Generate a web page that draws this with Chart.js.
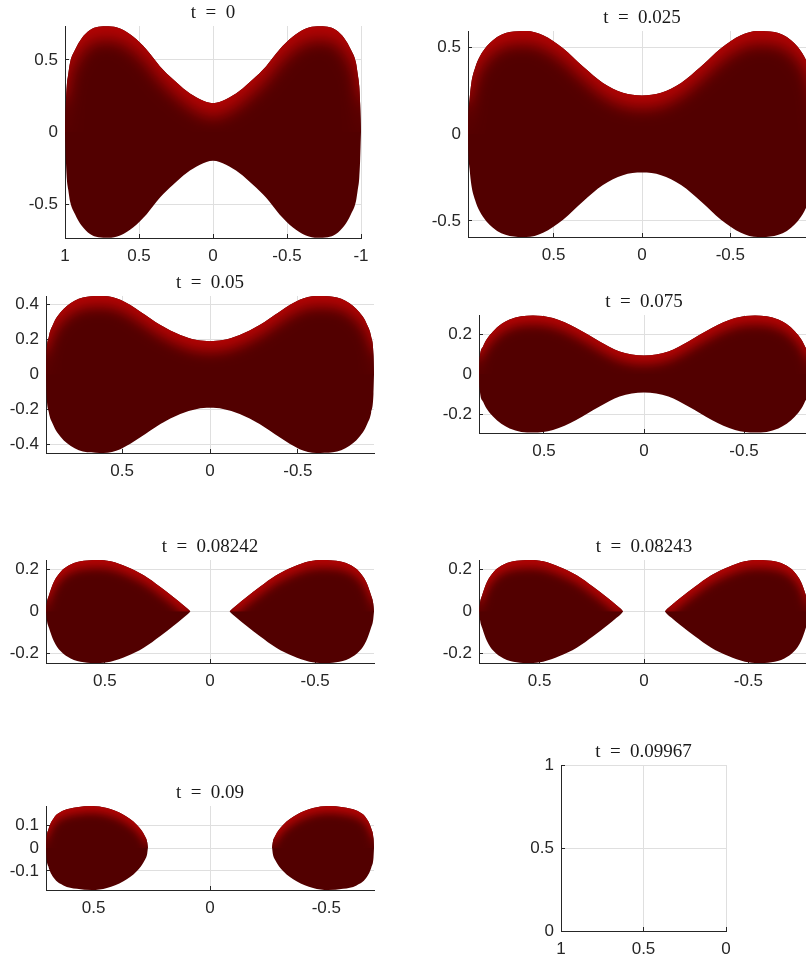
<!DOCTYPE html>
<html lang="en">
<head>
    <meta charset="UTF-8">
    <title>Shape at eight times</title>
    <script src="https://cdn.jsdelivr.net/npm/chart.js@4.4.0/dist/chart.umd.min.js"></script>
    <style>
        html, body { margin: 0; padding: 0; background: #fff; width: 806px; height: 959px; overflow: hidden; }
        #fig { position: relative; width: 806px; height: 959px; }
        canvas { position: absolute; }
    </style>
</head>
<body>
    <div id="fig"></div>

    <script>
        // Upper boundary of each shape, right-hand half only (x >= 0),
        // read off the picture. Shapes are symmetric in x and in y.
        const x_t0 = [1.0, 0.997, 0.994, 0.988, 0.978, 0.966, 0.932, 0.887, 0.831, 0.775, 0.707, 0.628, 0.538, 0.448, 0.358, 0.268, 0.178, 0.088, 0];
        const y_t0 = [0, 0.10, 0.20, 0.32, 0.40, 0.48, 0.57, 0.65, 0.707, 0.73, 0.734, 0.718, 0.66, 0.57, 0.455, 0.364, 0.284, 0.227, 0.20];

        const x_t025 = [0.985, 0.983, 0.976, 0.966, 0.945, 0.919, 0.844, 0.749, 0.655, 0.56, 0.447, 0.334, 0.221, 0.108, 0];
        const y_t025 = [0, 0.10, 0.20, 0.294, 0.38, 0.445, 0.54, 0.587, 0.593, 0.568, 0.493, 0.388, 0.294, 0.237, 0.222];

        const x_t05 = [0.933, 0.93, 0.917, 0.895, 0.869, 0.794, 0.699, 0.605, 0.51, 0.396, 0.282, 0.169, 0.074, 0];
        const y_t05 = [0, 0.11, 0.215, 0.28, 0.33, 0.406, 0.443, 0.447, 0.425, 0.358, 0.282, 0.225, 0.196, 0.19];

        const x_t075 = [0.825, 0.822, 0.805, 0.755, 0.672, 0.555, 0.455, 0.339, 0.222, 0.122, 0];
        const y_t075 = [0, 0.07, 0.138, 0.213, 0.272, 0.293, 0.28, 0.23, 0.163, 0.113, 0.093];

        // after pinch-off: one drop per side (this is the x > 0 drop)
        const x_t08242 = [0.78, 0.776, 0.766, 0.743, 0.711, 0.663, 0.60, 0.537, 0.473, 0.394, 0.315, 0.236, 0.173, 0.125, 0.105, 0.093];
        const y_t08242 = [0, 0.04, 0.077, 0.14, 0.188, 0.223, 0.241, 0.245, 0.239, 0.212, 0.172, 0.116, 0.068, 0.029, 0.012, 0];

        const x_t08243 = [0.789, 0.785, 0.775, 0.752, 0.72, 0.672, 0.61, 0.547, 0.483, 0.404, 0.322, 0.242, 0.178, 0.13, 0.11, 0.10];
        const y_t08243 = [0, 0.04, 0.077, 0.14, 0.188, 0.223, 0.241, 0.245, 0.239, 0.212, 0.172, 0.116, 0.068, 0.029, 0.012, 0];

        const x_t09 = [0.705, 0.703, 0.695, 0.672, 0.63, 0.572, 0.508, 0.443, 0.372, 0.315, 0.279, 0.27, 0.267];
        const y_t09 = [0, 0.04, 0.08, 0.13, 0.163, 0.178, 0.183, 0.174, 0.145, 0.101, 0.05, 0.025, 0];

        const titles = ['t = 0', 't = 0.025', 't = 0.05', 't = 0.075', 't = 0.08242', 't = 0.08243', 't = 0.09', 't = 0.09967'];

        const xTicks = [
            [-1, -0.5, 0, 0.5, 1], [-0.5, 0, 0.5], [-0.5, 0, 0.5], [-0.5, 0, 0.5],
            [-0.5, 0, 0.5], [-0.5, 0, 0.5], [-0.5, 0, 0.5], [0, 0.5, 1]
        ];
        const yTicks = [
            [-0.5, 0, 0.5], [-0.5, 0, 0.5], [-0.4, -0.2, 0, 0.2, 0.4], [-0.2, 0, 0.2],
            [-0.2, 0, 0.2], [-0.2, 0, 0.2], [-0.1, 0, 0.1], [0, 0.5, 1]
        ];

        // axis limits (tight around the shape)
        const xLims = [[-1, 1], [-0.985, 0.985], [-0.933, 0.933], [-0.825, 0.825], [-0.78, 0.78], [-0.79, 0.79], [-0.705, 0.705], [0, 1]];
        const yLims = [[-0.735, 0.735], [-0.593, 0.593], [-0.447, 0.447], [-0.295, 0.295], [-0.245, 0.245], [-0.245, 0.245], [-0.183, 0.183], [0, 1]];

        const panels = [
            { xs: x_t0, ys: y_t0, joined: true },
            { xs: x_t025, ys: y_t025, joined: true },
            { xs: x_t05, ys: y_t05, joined: true },
            { xs: x_t075, ys: y_t075, joined: true },
            { xs: x_t08242, ys: y_t08242, joined: false },
            { xs: x_t08243, ys: y_t08243, joined: false },
            { xs: x_t09, ys: y_t09, joined: false },
            null
        ];

        // ---- layout / style (pixels) ----
        const boxes = [
            { l: 65, t: 26, r: 361, b: 238, shift: 14, blur: 8 },
            { l: 468, t: 31, r: 816, b: 237, shift: 13, blur: 7.5 },
            { l: 46, t: 296, r: 374, b: 453, shift: 11, blur: 6.5 },
            { l: 479, t: 315, r: 809, b: 433, shift: 9, blur: 5.5 },
            { l: 46, t: 560, r: 374, b: 663, shift: 8, blur: 5 },
            { l: 479, t: 560, r: 809, b: 663, shift: 8, blur: 5 },
            { l: 46, t: 806, r: 374, b: 890, shift: 7, blur: 4.5 },
            { l: 561, t: 765, r: 726, b: 931, shift: 0, blur: 0 }
        ];
        const Y_W = 60, X_H = 40, PAD_T = 30, PAD_R = 20;
        const AXIS = '#262626';
        const GRID = '#dfdfdf';
        const DARK = 'rgb(82,0,0)';
        const BRIGHT = 'rgb(178,4,4)';

        // lighter band along the upper edge of each surface: painted on a
        // scratch canvas (bright, then the body shifted down and blurred),
        // then copied once through a clip of the upper half of the shape
        const rimPlugin = {
            id: 'rim',
            afterDatasetsDraw(chart) {
                const ctx = chart.ctx, a = chart.chartArea;
                const o = chart.options.plugins.rim;
                if (!o.shift) return;
                const y0 = chart.scales.y.getPixelForValue(0);
                chart.data.datasets.forEach((ds, i) => {
                    if (!ds.rim) return;
                    const line = chart.getDatasetMeta(i).dataset;
                    const pts = chart.getDatasetMeta(i).data;
                    const first = pts[0], last = pts[pts.length - 1];
                    const topY = Math.min(...pts.map(p => p.y));
                    const side = 0.45 * (y0 - topY);

                    const off = document.createElement('canvas');
                    off.width = chart.width;
                    off.height = chart.height;
                    const oc = off.getContext('2d');
                    oc.fillStyle = BRIGHT;
                    oc.fillRect(0, 0, off.width, off.height);
                    oc.filter = 'blur(' + o.blur + 'px)';
                    oc.translate(0, o.shift);
                    oc.beginPath();
                    line.path(oc);
                    oc.lineTo(last.x + 1, last.y - side);
                    oc.lineTo(last.x + 80, last.y - side);
                    oc.lineTo(last.x + 80, a.bottom + 80);
                    oc.lineTo(first.x - 80, a.bottom + 80);
                    oc.lineTo(first.x - 80, first.y - side);
                    oc.lineTo(first.x - 1, first.y - side);
                    oc.closePath();
                    oc.fillStyle = DARK;
                    oc.fill();

                    ctx.save();
                    ctx.beginPath();
                    ctx.rect(a.left, a.top, a.right - a.left, a.bottom - a.top);
                    ctx.clip();
                    ctx.beginPath();
                    line.path(ctx);
                    ctx.lineTo(last.x, y0);
                    ctx.lineTo(first.x, y0);
                    ctx.closePath();
                    ctx.clip();
                    ctx.drawImage(off, 0, 0);
                    ctx.restore();
                });
            }
        };

        // short ticks pointing into the axes
        const innerTicks = {
            id: 'innerTicks',
            beforeDatasetsDraw(chart) {
                const { ctx, chartArea: a, scales } = chart;
                ctx.save();
                ctx.strokeStyle = AXIS;
                ctx.lineWidth = 1;
                ctx.beginPath();
                scales.x.ticks.forEach(t => {
                    const px = Math.round(scales.x.getPixelForValue(t.value) - 0.5) + 0.5;
                    ctx.moveTo(px, a.bottom);
                    ctx.lineTo(px, a.bottom - 4);
                });
                scales.y.ticks.forEach(t => {
                    const py = Math.round(scales.y.getPixelForValue(t.value) - 0.5) + 0.5;
                    ctx.moveTo(a.left, py);
                    ctx.lineTo(a.left + 4, py);
                });
                ctx.stroke();
                ctx.restore();
            }
        };

        const panelTitle = {
            id: 'panelTitle',
            afterDraw(chart) {
                const ctx = chart.ctx, a = chart.chartArea;
                ctx.save();
                ctx.font = '19px "Liberation Serif"';
                ctx.fillStyle = '#1a1a1a';
                ctx.textAlign = 'center';
                ctx.textBaseline = 'alphabetic';
                ctx.fillText(chart.options.plugins.panelTitle.text, (a.left + a.right) / 2, a.top - 8.5);
                ctx.restore();
            }
        };

        function shapeDatasets(p) {
            const half = p.xs.map((x, i) => ({ x: x, y: p.ys[i] }));
            let pieces;
            if (p.joined) {
                const mirror = half.slice(0, -1).reverse().map(q => ({ x: -q.x, y: q.y }));
                pieces = [half.concat(mirror)];
            } else {
                pieces = [half, half.slice().reverse().map(q => ({ x: -q.x, y: q.y }))];
            }
            const out = [];
            pieces.forEach(up => {
                const style = {
                    backgroundColor: DARK,
                    borderWidth: 0,
                    pointRadius: 0,
                    cubicInterpolationMode: 'monotone'
                };
                out.push(Object.assign({ data: up, fill: '+1', rim: true }, style));
                out.push(Object.assign({ data: up.map(q => ({ x: q.x, y: -q.y })), fill: false }, style));
            });
            return out;
        }

        function makeScale(lim, ticks, isX) {
            return {
                type: 'linear',
                reverse: isX,
                min: lim[0],
                max: lim[1],
                afterBuildTicks: s => { s.ticks = ticks.map(v => ({ value: v })); },
                afterFit: s => { if (isX) s.height = X_H; else s.width = Y_W; },
                grid: { color: GRID, lineWidth: 1, drawTicks: false },
                border: { display: true, color: AXIS, width: 1 },
                ticks: {
                    color: AXIS,
                    padding: isX ? 8 : 7,
                    maxRotation: 0,
                    autoSkip: false,
                    font: { family: '"Liberation Sans", Arial, sans-serif', size: 17 },
                    callback: v => String(v)
                }
            };
        }

        const fig = document.getElementById('fig');

        panels.forEach((p, i) => {
            const b = boxes[i];
            const W = b.r - b.l + Y_W + PAD_R;
            const H = b.b - b.t + PAD_T + X_H;
            const cv = document.createElement('canvas');
            cv.width = W;
            cv.height = H;
            cv.style.left = (b.l - Y_W) + 'px';
            cv.style.top = (b.t - PAD_T) + 'px';
            cv.style.width = W + 'px';
            cv.style.height = H + 'px';
            fig.appendChild(cv);

            new Chart(cv.getContext('2d'), {
                type: 'line',
                data: { datasets: p ? shapeDatasets(p) : [] },
                options: {
                    responsive: false,
                    devicePixelRatio: 1,
                    animation: false,
                    layout: { padding: { top: PAD_T, right: PAD_R, left: 0, bottom: 0 } },
                    scales: {
                        x: makeScale(xLims[i], xTicks[i], true),
                        y: makeScale(yLims[i], yTicks[i], false)
                    },
                    plugins: {
                        legend: { display: false },
                        tooltip: { enabled: false },
                        title: { display: false },
                        rim: { shift: b.shift, blur: b.blur },
                        panelTitle: { text: titles[i].replace(/ = /, '\u2002=\u2002') }
                    }
                },
                plugins: [innerTicks, rimPlugin, panelTitle]
            });
        });
    </script>
</body>
</html>
